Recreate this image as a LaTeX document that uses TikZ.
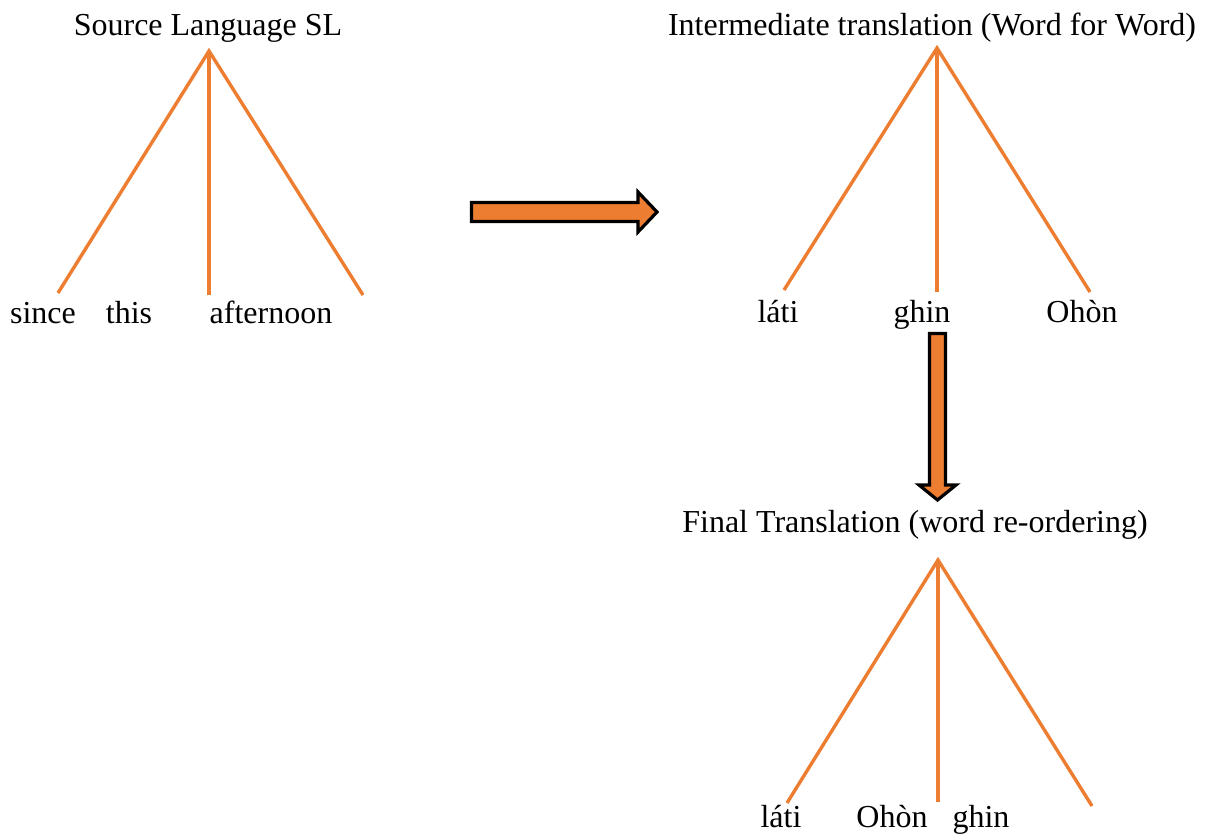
\documentclass[tikz,border=0pt]{standalone}
\usepackage{fontspec}
\setmainfont{Liberation Serif}
\definecolor{treeorange}{HTML}{ED7D31}
\tikzset{
  lbl/.style={anchor=base, inner sep=0pt, font=\fontsize{32}{38}\selectfont},
  branch/.style={draw=treeorange, line width=3.4pt},
  bigarrow/.style={draw=black, fill=treeorange, line width=3.2pt, line join=miter}
}
\begin{document}
\begin{tikzpicture}[x=1pt,y=-1pt]
\useasboundingbox (0,0) rectangle (1212,838);
% Tree 1
\node[lbl] (t1) at (208,35) {Source Language SL};
\coordinate (a1) at (209,51);
\coordinate (l1) at (58,293);
\coordinate (m1) at (209,295);
\coordinate (r1) at (363,295);
\draw[branch] (l1) -- (a1) -- (r1);
\draw[branch] (a1) -- (m1);
\node[lbl] (w11) at (43,323) {since};
\node[lbl] (w12) at (129,323) {this};
\node[lbl] (w13) at (271,323) {afternoon};
% Tree 2
\node[lbl] (t2) at (932,35) {Intermediate translation (Word for Word)};
\coordinate (a2) at (937,48);
\coordinate (l2) at (784,290);
\coordinate (m2) at (937,292);
\coordinate (r2) at (1090,292);
\draw[branch] (l2) -- (a2) -- (r2);
\draw[branch] (a2) -- (m2);
\node[lbl] (w21) at (778,322) {láti};
\node[lbl] (w22) at (922,322) {ghin};
\node[lbl] (w23) at (1082,322) {Ohòn};
% Tree 3
\node[lbl] (t3) at (915,532) {Final Translation (word re-ordering)};
\coordinate (a3) at (938,560);
\coordinate (l3) at (787,803);
\coordinate (m3) at (938,802);
\coordinate (r3) at (1092,806);
\draw[branch] (l3) -- (a3) -- (r3);
\draw[branch] (a3) -- (m3);
\node[lbl] (w31) at (781,827) {láti};
\node[lbl] (w32) at (892,827) {Ohòn};
\node[lbl] (w33) at (981,827) {ghin};
% Block arrows
\draw[bigarrow] (471.5,202.5) -- (638,202.5) -- (638,192) -- (657,212) -- (638,232) -- (638,221.5) -- (471.5,221.5) -- cycle;
\draw[bigarrow] (929.5,333.5) -- (945.5,333.5) -- (945.5,485) -- (956,485) -- (937.5,500) -- (919,485) -- (929.5,485) -- cycle;
\end{tikzpicture}
\end{document}
